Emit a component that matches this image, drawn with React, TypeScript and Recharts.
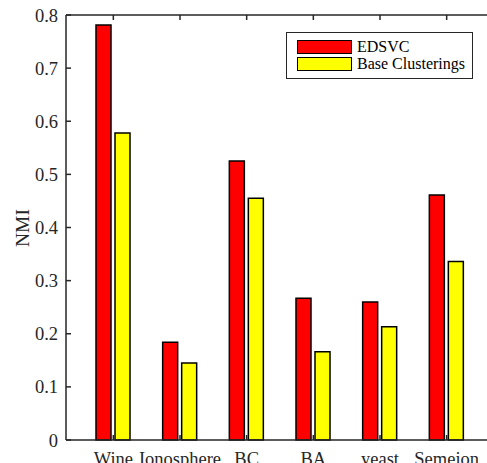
import React from "react";
import { BarChart, Bar, XAxis, YAxis, Legend } from "recharts";

const categories = ["Wine", "Ionosphere", "BC", "BA", "yeast", "Semeion"];
const edsvc = [0.781, 0.184, 0.525, 0.267, 0.26, 0.461];
const baseClusterings = [0.578, 0.145, 0.455, 0.166, 0.213, 0.336];
const yTicks = [0, 0.1, 0.2, 0.3, 0.4, 0.5, 0.6, 0.7, 0.8];

const data = categories.map((name, i) => ({
  name,
  edsvc: edsvc[i],
  base: baseClusterings[i],
}));

const FONT = "'Liberation Serif', 'Times New Roman', serif";
const INK = "#262626";

const legendItems = [
  { label: "EDSVC", color: "#ff0000" },
  { label: "Base Clusterings", color: "#ffff00" },
];

function LegendBox() {
  return (
    <div
      style={{
        width: 185,
        height: 40,
        border: `1px solid ${INK}`,
        background: "#fff",
        boxSizing: "content-box",
        fontFamily: FONT,
        fontSize: 16,
        color: "#000",
        paddingTop: 5,
      }}
    >
      {legendItems.map((it) => (
        <div
          key={it.label}
          style={{ display: "flex", alignItems: "center", height: 17, marginLeft: 10 }}
        >
          <span
            style={{
              display: "inline-block",
              width: 53,
              height: 12,
              background: it.color,
              border: "1px solid #000",
              marginRight: 5,
            }}
          />
          <span style={{ lineHeight: "16px" }}>{it.label}</span>
        </div>
      ))}
    </div>
  );
}

// inward tick marks for the top and right frame axes (no labels)
const TopTick = (p: any) => (
  <line x1={p.x} x2={p.x} y1={p.y} y2={p.y + 5} stroke={INK} strokeWidth={1.5} />
);
const RightTick = (p: any) => (
  <line x1={p.x} x2={p.x - 5} y1={p.y} y2={p.y} stroke={INK} strokeWidth={1.5} />
);

export default function App() {
  const tickStyle = { fontFamily: FONT, fontSize: 18.5, fill: INK };
  return (
    <div
      style={{
        position: "absolute",
        left: 0,
        top: 0,
        width: 487,
        height: 463,
        overflow: "hidden",
        background: "#fff",
      }}
    >
      <BarChart
        width={500}
        height={480}
        data={data}
        margin={{ top: 14, right: 8, bottom: 0, left: 0 }}
        barSize={15}
        barGap={4}
      >
        <XAxis
          dataKey="name"
          height={40}
          interval={0}
          padding={{ left: 14, right: 12 }}
          tick={tickStyle}
          tickSize={-5}
          tickMargin={17}
          axisLine={{ stroke: INK, strokeWidth: 1.5 }}
          tickLine={{ stroke: INK, strokeWidth: 1.5 }}
        />
        <XAxis
          xAxisId="top"
          orientation="top"
          dataKey="name"
          height={1}
          interval={0}
          padding={{ left: 14, right: 12 }}
          tick={TopTick}
          tickSize={0}
          tickMargin={0}
          tickLine={false}
          axisLine={{ stroke: INK, strokeWidth: 1.5 }}
        />
        <YAxis
          width={66}
          domain={[0, 0.8]}
          ticks={yTicks}
          tick={tickStyle}
          tickSize={-5}
          tickMargin={13}
          interval={0}
          axisLine={{ stroke: INK, strokeWidth: 1.5 }}
          tickLine={{ stroke: INK, strokeWidth: 1.5 }}
          label={{
            content: () => (
              <text
                x={29}
                y={228}
                transform="rotate(-90 29 228)"
                textAnchor="middle"
                fontFamily={FONT}
                fontSize={19.5}
                fill={INK}
              >
                NMI
              </text>
            ),
          }}
        />
        <YAxis
          yAxisId="right"
          orientation="right"
          width={0}
          domain={[0, 0.8]}
          ticks={yTicks}
          tick={RightTick}
          tickSize={0}
          tickMargin={0}
          tickLine={false}
          interval={0}
          axisLine={{ stroke: INK, strokeWidth: 1.5 }}
        />
        <Legend
          layout="horizontal"
          verticalAlign="middle"
          align="center"
          wrapperStyle={{ top: 32, left: 286, width: "auto" }}
          content={() => <LegendBox />}
        />
        <Bar
          dataKey="edsvc"
          name="EDSVC"
          fill="#ff0000"
          stroke="#000"
          strokeWidth={1.5}
          isAnimationActive={false}
        />
        <Bar
          dataKey="base"
          name="Base Clusterings"
          fill="#ffff00"
          stroke="#000"
          strokeWidth={1.5}
          isAnimationActive={false}
        />
      </BarChart>
    </div>
  );
}
